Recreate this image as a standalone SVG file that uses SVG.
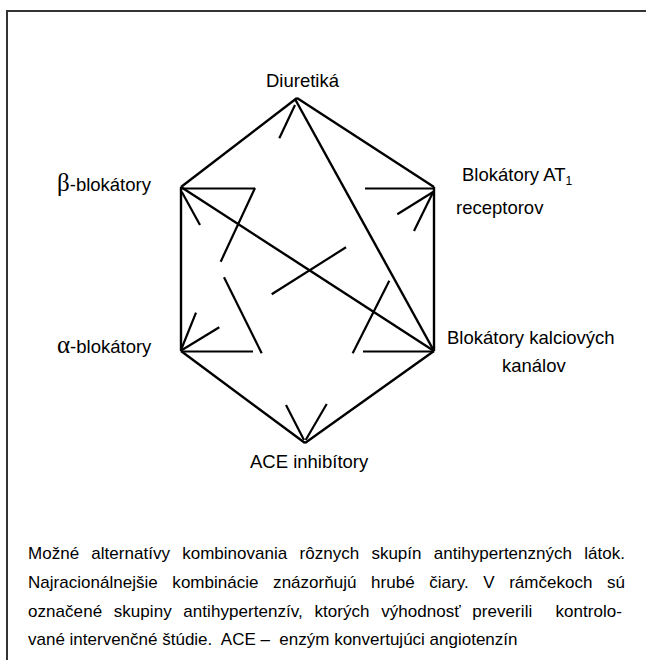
<svg xmlns="http://www.w3.org/2000/svg" width="646" height="660" viewBox="0 0 646 660">
<style>
.lbl{font-family:"Liberation Sans",Arial,Helvetica,sans-serif;font-size:18.5px;fill:#000}
.gr{font-family:"Liberation Serif","DejaVu Serif",serif;font-size:25px}
.cap{font-family:"Liberation Sans",Arial,Helvetica,sans-serif;font-size:17px;fill:#000}
.thick{stroke:#000;stroke-width:2.4;fill:none;stroke-linecap:butt}
.thin{stroke:#000;stroke-width:2.2;fill:none;stroke-linecap:butt}
.frame{stroke:#333;stroke-width:2;fill:none}
</style>
<rect width="646" height="660" fill="#fff"/>
<path class="frame" d="M7,660 V11 H646"/>
<g id="connectors">
  <line class="thick" x1="297" y1="98" x2="181" y2="187"/>
  <line class="thick" x1="297" y1="98" x2="434" y2="187"/>
  <line class="thick" x1="181" y1="187" x2="181" y2="351"/>
  <line class="thick" x1="434" y1="187" x2="434" y2="351"/>
  <line class="thick" x1="181" y1="351" x2="305" y2="443"/>
  <line class="thick" x1="434" y1="351" x2="305" y2="443"/>
  <line class="thick" x1="295" y1="99" x2="434" y2="351"/>
  <line class="thick" x1="181" y1="187" x2="434" y2="351"/>
  <line class="thin" x1="181" y1="188.5" x2="255" y2="188.5"/>
  <line class="thin" x1="365" y1="188.5" x2="434" y2="188.5"/>
  <line class="thin" x1="181" y1="351.5" x2="253" y2="351.5"/>
  <line class="thin" x1="363" y1="351.5" x2="434" y2="351.5"/>
  <line class="thin" x1="182" y1="350" x2="219.3" y2="327.3"/>
  <line class="thin" x1="271.7" y1="294.3" x2="346" y2="247.3"/>
  <line class="thin" x1="397.3" y1="214.3" x2="433.5" y2="191.7"/>
  <line class="thin" x1="295" y1="105" x2="279.3" y2="138.3"/>
  <line class="thin" x1="255" y1="188" x2="220.7" y2="261.7"/>
  <line class="thin" x1="196" y1="312.7" x2="181" y2="350"/>
  <line class="thin" x1="181.7" y1="191.7" x2="200" y2="225"/>
  <line class="thin" x1="224" y1="277.3" x2="261.7" y2="353.3"/>
  <line class="thin" x1="286" y1="405" x2="304" y2="440"/>
  <line class="thin" x1="433.3" y1="191.7" x2="414" y2="231"/>
  <line class="thin" x1="389.3" y1="280.7" x2="352.7" y2="353.3"/>
  <line class="thin" x1="326.7" y1="404" x2="305.7" y2="440"/>
</g>
<g id="diuretika"><text class="lbl" x="266" y="87">Diuretiká</text></g>
<g id="beta"><text class="lbl" x="57" y="191"><tspan class="gr">β</tspan>-blokátory</text></g>
<g id="at1"><text class="lbl" x="462" y="181">Blokátory AT<tspan font-size="12" dy="4">1</tspan></text><text class="lbl" x="456" y="214">receptorov</text></g>
<g id="alfa"><text class="lbl" x="57" y="353"><tspan class="gr">α</tspan>-blokátory</text></g>
<g id="kalcium"><text class="lbl" x="447" y="344">Blokátory kalciových</text><text class="lbl" x="502" y="372">kanálov</text></g>
<g id="ace"><text class="lbl" x="250" y="468">ACE inhibítory</text></g>
<g id="caption">
<text class="cap" x="28" y="559" word-spacing="7.5" textLength="597" lengthAdjust="spacing">Možné alternatívy kombinovania rôznych skupín antihypertenzných látok.</text>
<text class="cap" x="28" y="588" word-spacing="9.8" textLength="597" lengthAdjust="spacing">Najracionálnejšie kombinácie znázorňujú hrubé čiary. V rámčekoch sú</text>
<text class="cap" x="28" y="617" word-spacing="6.8" textLength="594" lengthAdjust="spacing" xml:space="preserve">označené skupiny antihypertenzív, ktorých výhodnosť preverili  kontrolo-</text>
<text class="cap" x="28" y="645" xml:space="preserve">vané intervenčné štúdie.  ACE –  enzým konvertujúci angiotenzín</text>
</g>
</svg>
